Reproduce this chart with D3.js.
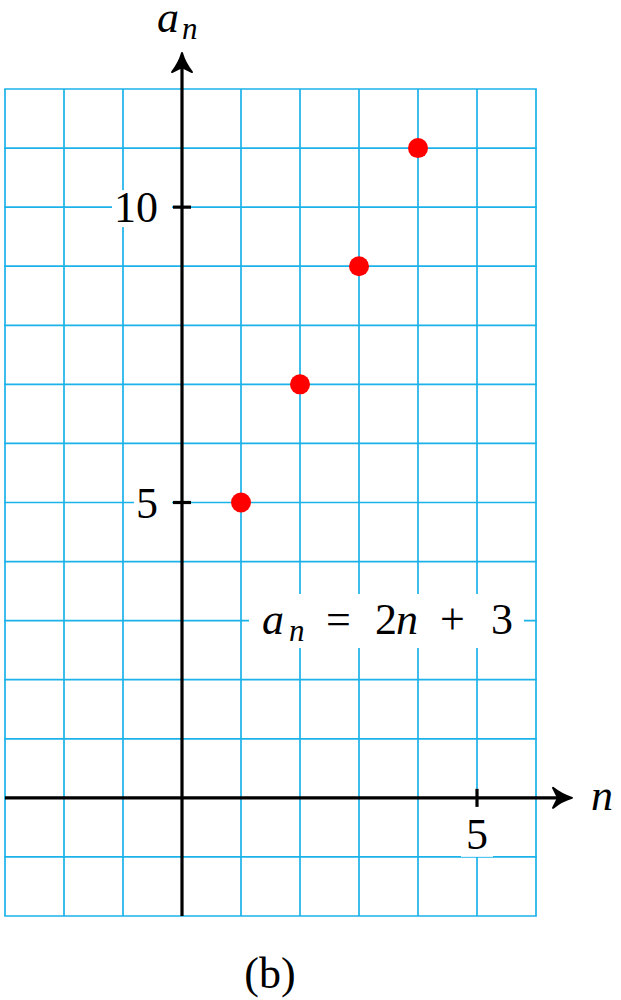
<!DOCTYPE html>
<html><head><meta charset="utf-8">
<script src="https://cdn.jsdelivr.net/npm/d3@7"></script>
<style>body{margin:0;background:#fff} svg text{font-family:"Liberation Serif",serif !important}</style>
</head><body>
<svg id="c" width="621" height="1000"></svg>
<script>
const nValues = [1, 2, 3, 4];
const aValues = [5, 7, 9, 11];
const xTicks = [5];
const yTicks = [5, 10];
const xDomain = [-3, 6];
const yDomain = [-2, 12];

const svg = d3.select("#c");
const x = d3.scaleLinear().domain(xDomain).range([5, 536]);
const y = d3.scaleLinear().domain(yDomain).range([916, 89]);
const gridColor = "#1ab2e8";

function txt(px, py, s, size, opts = {}) {
  const t = svg.append("text").attr("x", px).attr("y", py)
    .attr("font-family", "Liberation Serif")
    .attr("font-size", size)
    .attr("text-anchor", opts.anchor || "start").attr("fill", "#000").text(s);
  if (opts.italic) t.attr("font-style", "italic");
  return t;
}

// grid
const g = svg.append("g");
g.selectAll("line.v").data(d3.range(xDomain[0], xDomain[1] + 1)).join("line")
  .attr("x1", d => x(d)).attr("x2", d => x(d)).attr("y1", y(yDomain[0])).attr("y2", y(yDomain[1]))
  .attr("stroke", gridColor).attr("stroke-width", 1.7);
g.selectAll("line.h").data(d3.range(yDomain[0], yDomain[1] + 1)).join("line")
  .attr("y1", d => y(d)).attr("y2", d => y(d)).attr("x1", x(xDomain[0]) - 0.8).attr("x2", x(xDomain[1]) + 0.8)
  .attr("stroke", gridColor).attr("stroke-width", 1.7);

// y tick labels with white background
yTicks.forEach(v => {
  const s = String(v);
  const w = s.length * 22 + 16;
  svg.append("rect").attr("x", x(0) - 10 - w).attr("y", y(v) - 17).attr("width", w).attr("height", 37).attr("fill", "#fff");
  txt(x(0) - 24, y(v) + 15, s, 44, {anchor: "end"});
});
// x tick labels
xTicks.forEach(v => {
  svg.append("rect").attr("x", x(v) - 16).attr("y", y(0) + 9).attr("width", 32).attr("height", 50).attr("fill", "#fff");
  txt(x(v), y(0) + 51, String(v), 44, {anchor: "middle"});
});

// axes
svg.append("line").attr("x1", x(xDomain[0])).attr("x2", 562).attr("y1", y(0)).attr("y2", y(0))
  .attr("stroke", "#000").attr("stroke-width", 3.2);
svg.append("line").attr("x1", x(0)).attr("x2", x(0)).attr("y1", y(yDomain[0])).attr("y2", 63)
  .attr("stroke", "#000").attr("stroke-width", 3.2);
function arrowPath(tx, ty, dir) {
  if (dir === 'r') return `M${tx},${ty} C${tx-7},${ty-2} ${tx-14},${ty-6} ${tx-19},${ty-10} L${tx-14},${ty} L${tx-19},${ty+10} C${tx-14},${ty+6} ${tx-7},${ty+2} ${tx},${ty}Z`;
  return `M${tx},${ty} C${tx-2},${ty+7} ${tx-6},${ty+14} ${tx-10},${ty+19} L${tx},${ty+14} L${tx+10},${ty+19} C${tx+6},${ty+14} ${tx+2},${ty+7} ${tx},${ty}Z`;
}
svg.append("path").attr("d", arrowPath(572, y(0), 'r')).attr("fill", "#000").attr("stroke", "#000").attr("stroke-width", 2).attr("stroke-linejoin", "round");
svg.append("path").attr("d", arrowPath(x(0), 53, 'u')).attr("fill", "#000").attr("stroke", "#000").attr("stroke-width", 2).attr("stroke-linejoin", "round");

// ticks
yTicks.forEach(v => svg.append("line").attr("x1", x(0) - 9).attr("x2", x(0) + 9).attr("y1", y(v)).attr("y2", y(v)).attr("stroke", "#000").attr("stroke-width", 3.2));
xTicks.forEach(v => svg.append("line").attr("x1", x(v)).attr("x2", x(v)).attr("y1", y(0) - 9).attr("y2", y(0) + 9).attr("stroke", "#000").attr("stroke-width", 3.2));

// axis labels
txt(591, 810, "n", 44, {italic: true});
txt(157, 32, "a", 44, {italic: true});
txt(182, 39, "n", 31, {italic: true});

// equation label
svg.append("rect").attr("x", 249).attr("y", 594).attr("width", 275).attr("height", 54).attr("fill", "#fff");
txt(262, 634, "a", 44, {italic: true});
txt(289, 641, "n", 31, {italic: true});
txt(326, 634, "=", 44);
txt(375, 634, "2", 44);
txt(396, 634, "n", 44, {italic: true});
txt(440, 634, "+", 44);
txt(491, 634, "3", 44);

// points
svg.selectAll("circle.pt").data(nValues.map((n, i) => [n, aValues[i]])).join("circle")
  .attr("cx", d => x(d[0])).attr("cy", d => y(d[1])).attr("r", 10).attr("fill", "#ff0000");

// caption
txt(270, 988, "(b)", 44, {anchor: "middle"});
</script>
</body></html>
